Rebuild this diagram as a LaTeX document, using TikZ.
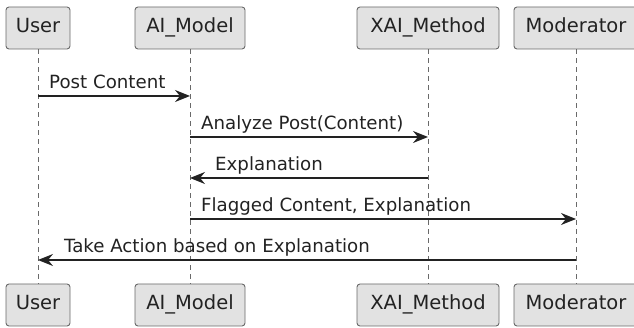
\documentclass[tikz,border=0pt]{standalone}
\usepackage{fontspec}
\setmainfont{DejaVu Sans}
\usetikzlibrary{arrows.meta}
\definecolor{boxfill}{RGB}{226,226,226}
\definecolor{boxline}{RGB}{105,105,105}
\definecolor{msgline}{RGB}{34,34,34}
\begin{document}
\begin{tikzpicture}[x=1pt,y=-1pt,
  actor/.style={draw=boxline,fill=boxfill,rounded corners=3pt,line width=0.9pt,
    minimum height=42pt,inner sep=0pt,text height=14pt,text depth=4pt,
    text=msgline,font=\fontsize{19.5}{22}\selectfont},
  life/.style={draw=boxline,line width=0.9pt,dash pattern=on 5pt off 4pt},
  msg/.style={draw=msgline,line width=1.4pt,-{Stealth[length=15pt,width=12pt,inset=5pt]}},
  lbl/.style={anchor=base west,inner sep=0pt,text=msgline,font=\fontsize{18.2}{20}\selectfont}]
\useasboundingbox (0,0) rectangle (634,328);

% participants, top row
\node[actor,minimum width=64pt]  (user)  at (38,28)  {User};
\node[actor,minimum width=110pt] (model) at (190,28) {AI\_Model};
\node[actor,minimum width=142pt] (xai)   at (428,28) {XAI\_Method};
\node[actor,minimum width=124pt] (mod)   at (576,28) {Moderator};

% participants, bottom row
\node[actor,minimum width=64pt]  (userB)  at (38,305)  {User};
\node[actor,minimum width=110pt] (modelB) at (190,305) {AI\_Model};
\node[actor,minimum width=142pt] (xaiB)   at (428,305) {XAI\_Method};
\node[actor,minimum width=124pt] (modB)   at (576,305) {Moderator};

% lifelines
\draw[life] (user.south) -- (userB.north);
\draw[life] (model.south) -- (modelB.north);
\draw[life] (xai.south) -- (xaiB.north);
\draw[life] (mod.south) -- (modB.north);

% messages
\coordinate (m1a) at (38,96);  \coordinate (m1b) at (190,96);
\coordinate (m2a) at (190,137); \coordinate (m2b) at (428,137);
\coordinate (m3a) at (428,178); \coordinate (m3b) at (190,178);
\coordinate (m4a) at (190,219); \coordinate (m4b) at (576,219);
\coordinate (m5a) at (576,260); \coordinate (m5b) at (38,260);

\draw[msg] (m1a) -- (m1b);
\node[lbl] (t1) at (49,89) {Post Content};
\draw[msg] (m2a) -- (m2b);
\node[lbl] (t2) at (201,130) {Analyze Post(Content)};
\draw[msg] (m3a) -- (m3b);
\node[lbl] (t3) at (215,171) {Explanation};
\draw[msg] (m4a) -- (m4b);
\node[lbl] (t4) at (201,212) {Flagged Content, Explanation};
\draw[msg] (m5a) -- (m5b);
\node[lbl] (t5) at (64,253) {Take Action based on Explanation};
\end{tikzpicture}
\end{document}
